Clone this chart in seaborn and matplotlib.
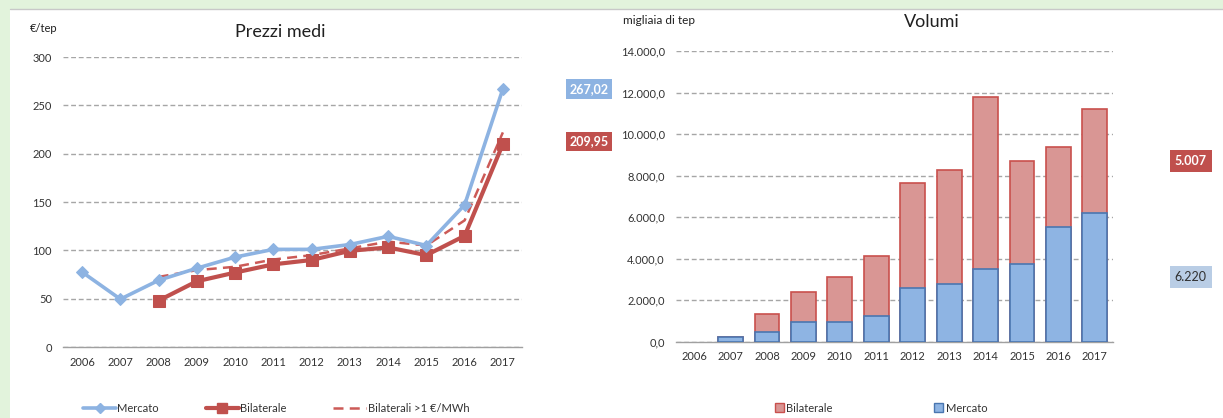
import numpy as np
import pandas as pd
import matplotlib
matplotlib.use("Agg")
import matplotlib.pyplot as plt
from matplotlib.lines import Line2D
from matplotlib.patches import Rectangle, Patch
from matplotlib.ticker import FuncFormatter, FixedLocator
import seaborn as sns

# dati
years = [2006, 2007, 2008, 2009, 2010, 2011, 2012, 2013, 2014, 2015, 2016, 2017]
prezzi_mercato = [77.5, 49.5, 69, 81.5, 93, 101, 101, 106, 114.5, 105, 147, 267.02]
prezzi_bilaterale = [np.nan, np.nan, 48, 68, 77, 85.5, 90, 99.5, 103, 95, 115, 209.95]
prezzi_bil_1 = [np.nan, np.nan, 72.5, 79.5, 83, 90.5, 95, 102, 109, 105, 131, 222]
# 2006: nessun volume
vol_mercato = [np.nan, 212, 482, 963, 960, 1252, 2570, 2779, 3485, 3742, 5509, 6220]
vol_bilaterale = [np.nan, 0, 852, 1445, 2140, 2875, 5090, 5490, 8315, 4975, 3880, 5007]

BLUE_LINE = "#8db3e2"
RED_LINE = "#c0504d"
RED_DASH = "#cc5a57"
BLUE_BAR = "#8eb4e3"
BLUE_EDGE = "#4a76b0"
RED_BAR = "#d99694"
RED_EDGE = "#c9504d"
GRID = "#a6a6a6"
TXT = "#333333"

sns.set_style("white")
plt.rcParams["font.family"] = ["Lato", "DejaVu Sans"]

W, H = 1223, 418
fig = plt.figure(figsize=(W / 100, H / 100), dpi=100)
fig.patch.set_facecolor("#e2f3dc")
fig.patches.append(Rectangle((10 / W, 0), 1, (H - 10) / H, transform=fig.transFigure,
                             facecolor="white", edgecolor="none", zorder=-10))
fig.lines.append(Line2D([10 / W, 1], [(H - 9) / H] * 2, transform=fig.transFigure,
                        color="#c8c8c8", lw=1, zorder=-9))


def px_axes(x0, y_top, x1, y_bot):
    return fig.add_axes([x0 / W, (H - y_bot) / H, (x1 - x0) / W, (y_bot - y_top) / H])


def style_axis(ax):
    for s in ["top", "right", "left"]:
        ax.spines[s].set_visible(False)
    ax.spines["bottom"].set_color("#a0a0a0")
    ax.spines["bottom"].set_linewidth(1)
    ax.set_facecolor("none")
    ax.set_axisbelow(True)
    ax.grid(axis="y", color=GRID, linestyle=(0, (3.5, 2)), linewidth=1)
    ax.grid(axis="x", visible=False)
    ax.tick_params(axis="y", length=0, pad=8, labelsize=8, labelcolor=TXT)
    ax.tick_params(axis="x", which="major", length=0, pad=7, labelsize=8, labelcolor=TXT)
    ax.tick_params(axis="x", which="minor", length=5, color="#a0a0a0", direction="out")
    ax.set_xlabel("")
    ax.set_ylabel("")


# ---------------- Prezzi medi ----------------
ax1 = px_axes(63, 57, 522, 347)
sns.lineplot(x=years, y=prezzi_bil_1, ax=ax1, color=RED_DASH, linewidth=1.8,
             linestyle=(0, (4, 2.5)), zorder=3)
sns.lineplot(x=years, y=prezzi_bilaterale, ax=ax1, color=RED_LINE, linewidth=3,
             marker="s", markersize=8, markeredgecolor=RED_LINE, zorder=4)
sns.lineplot(x=years, y=prezzi_mercato, ax=ax1, color=BLUE_LINE, linewidth=2.6,
             marker="D", markersize=6, markeredgecolor=BLUE_LINE, zorder=5)
ax1.set_xlim(2005.5, 2017.5)
ax1.set_ylim(0, 300)
ax1.set_yticks(range(0, 301, 50))
ax1.set_xticks(years)
ax1.set_xticklabels([str(y) for y in years])
ax1.xaxis.set_minor_locator(FixedLocator(np.arange(2005.5, 2018, 1)))
style_axis(ax1)

ax1.annotate("267,02", (years[-1], prezzi_mercato[-1]), xytext=(62, 0),
             textcoords="offset points", ha="center", va="center", fontsize=9,
             fontweight="bold", color="white", annotation_clip=False,
             bbox=dict(boxstyle="square,pad=0.3", fc=BLUE_LINE, ec="none"))
ax1.annotate("209,95", (years[-1], prezzi_bilaterale[-1]), xytext=(62, 2),
             textcoords="offset points", ha="center", va="center", fontsize=9,
             fontweight="bold", color="white", annotation_clip=False,
             bbox=dict(boxstyle="square,pad=0.3", fc=RED_LINE, ec="none"))

fig.text(280 / W, 1 - 32 / H, "Prezzi medi", ha="center", va="center", fontsize=13, color="#202020")
fig.text(30 / W, 1 - 29 / H, "€/tep", ha="left", va="center", fontsize=8, color="#202020")

# ---------------- Volumi ----------------
ax2 = px_axes(676, 51, 1113, 341.7)
vol = pd.DataFrame({"anno": [str(y) for y in years],
                    "Mercato": vol_mercato,
                    "Bilaterale": vol_bilaterale})
vol["Totale"] = vol["Mercato"] + vol["Bilaterale"]
sns.barplot(data=vol, x="anno", y="Totale", ax=ax2, color=RED_BAR, saturation=1,
            width=0.68, edgecolor=RED_EDGE, linewidth=1.2, zorder=3)
sns.barplot(data=vol, x="anno", y="Mercato", ax=ax2, color=BLUE_BAR, saturation=1,
            width=0.68, edgecolor=BLUE_EDGE, linewidth=1.2, zorder=4)
ax2.set_xlim(-0.5, 11.5)
ax2.set_ylim(0, 14000)
ax2.set_yticks(range(0, 14001, 2000))
ax2.yaxis.set_major_formatter(FuncFormatter(
    lambda v, p: f"{v:,.1f}".replace(",", "X").replace(".", ",").replace("X", ".")))
ax2.xaxis.set_minor_locator(FixedLocator(np.arange(-0.5, 12, 1)))
style_axis(ax2)

last = len(years) - 1
ax2.annotate("5.007", (last, vol_mercato[-1] + vol_bilaterale[-1] / 2), xytext=(69, 0),
             textcoords="offset points", ha="center", va="center", fontsize=9,
             fontweight="bold", color="white", annotation_clip=False,
             bbox=dict(boxstyle="square,pad=0.4", fc=RED_LINE, ec="none"))
ax2.annotate("6.220", (last, vol_mercato[-1] / 2), xytext=(69, 0),
             textcoords="offset points", ha="center", va="center", fontsize=9,
             color="#303030", annotation_clip=False,
             bbox=dict(boxstyle="square,pad=0.4", fc="#b9cde5", ec="none"))

fig.text(932 / W, 1 - 22 / H, "Volumi", ha="center", va="center", fontsize=13, color="#202020")
fig.text(623 / W, 1 - 20 / H, "migliaia di tep", ha="left", va="center", fontsize=8.5, color="#202020")

# ---------------- legende ----------------
h_left = [Line2D([], [], color=BLUE_LINE, lw=2.6, marker="D", markersize=5),
          Line2D([], [], color=RED_LINE, lw=3, marker="s", markersize=7),
          Line2D([], [], color=RED_DASH, lw=1.8, linestyle=(0, (4, 2.5)))]
fig.legend(h_left, ["Mercato", "Bilaterale", "Bilaterali >1 €/MWh"], ncol=3,
           loc="center", bbox_to_anchor=(276 / W, 1 - 408 / H), frameon=False,
           fontsize=8, handlelength=3.0, handletextpad=0.1, columnspacing=4.2,
           labelcolor=TXT, borderpad=0)
h_right = [Patch(fc=RED_BAR, ec=RED_EDGE), Patch(fc=BLUE_BAR, ec=BLUE_EDGE)]
fig.legend(h_right, ["Bilaterale", "Mercato"], ncol=2, loc="center",
           bbox_to_anchor=(881 / W, 1 - 408 / H), frameon=False, fontsize=8,
           handlelength=0.8, handleheight=0.8, handletextpad=0.2, columnspacing=9.2,
           labelcolor=TXT, borderpad=0)

fig.savefig("out.png", dpi=100, facecolor=fig.get_facecolor())
